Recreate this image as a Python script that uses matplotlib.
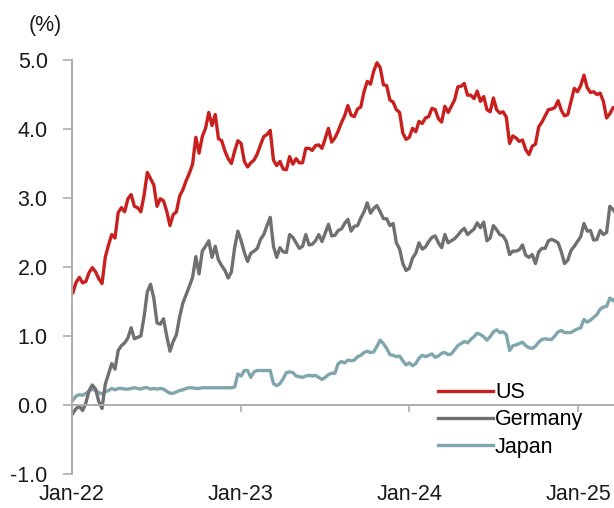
import matplotlib
matplotlib.use("Agg")
import matplotlib.pyplot as plt
import pandas as pd

plt.rcParams["font.family"] = ["Liberation Sans", "DejaVu Sans"]
plt.rcParams["axes.unicode_minus"] = False

# 10-year government bond yields (%), weekly (Mondays from 3 Jan 2022)
US_YIELD = [
    # 2022
    1.63, 1.78, 1.85, 1.77, 1.79, 1.92, 1.99, 1.93, 1.83, 1.76, 2.14, 2.32, 2.47,
    2.42, 2.79, 2.86, 2.80, 2.99, 3.05, 2.88, 2.86, 2.80, 3.04, 3.37, 3.28, 3.19,
    2.88, 2.99, 2.96, 2.81, 2.60, 2.76, 2.80, 3.03, 3.12, 3.25, 3.36, 3.49, 3.88,
    3.65, 3.89, 4.01, 4.24, 4.05, 4.21, 3.86, 3.83, 3.68, 3.57, 3.50, 3.68, 3.83,
    # 2023
    3.79, 3.53, 3.45, 3.51, 3.55, 3.64, 3.77, 3.89, 3.92, 3.98, 3.55, 3.47, 3.53,
    3.42, 3.41, 3.60, 3.49, 3.57, 3.51, 3.51, 3.72, 3.72, 3.69, 3.76, 3.77, 3.72,
    3.86, 4.01, 3.81, 3.87, 3.97, 4.09, 4.19, 4.34, 4.20, 4.18, 4.29, 4.32, 4.54,
    4.69, 4.65, 4.84, 4.96, 4.89, 4.64, 4.63, 4.42, 4.39, 4.28, 4.24, 3.94, 3.85,
    # 2024
    3.88, 4.01, 3.96, 4.11, 4.08, 4.16, 4.18, 4.30, 4.28, 4.15, 4.10, 4.33, 4.24,
    4.33, 4.42, 4.61, 4.62, 4.66, 4.49, 4.49, 4.44, 4.55, 4.40, 4.47, 4.28, 4.25,
    4.45, 4.28, 4.23, 4.25, 4.17, 3.79, 3.90, 3.87, 3.82, 3.84, 3.70, 3.63, 3.75,
    3.78, 4.03, 4.10, 4.19, 4.28, 4.29, 4.31, 4.41, 4.27, 4.19, 4.21, 4.40, 4.59,
    4.54,
    # 2025
    4.63, 4.78, 4.60, 4.53, 4.54, 4.50, 4.52, 4.40, 4.16, 4.22, 4.31, 4.29,
]

GERMANY_YIELD = [
    # 2022
    -0.12, -0.05, -0.02, -0.08, 0.03, 0.21, 0.29, 0.23, 0.05, -0.05, 0.30, 0.45, 0.60,
    0.52, 0.79, 0.86, 0.90, 0.97, 1.12, 0.96, 0.98, 1.00, 1.28, 1.64, 1.75, 1.55,
    1.19, 1.17, 1.25, 1.00, 0.78, 0.92, 1.02, 1.28, 1.48, 1.60, 1.72, 1.85, 2.15,
    1.90, 2.23, 2.30, 2.38, 2.14, 2.30, 2.10, 2.02, 1.95, 1.84, 1.93, 2.28, 2.52,
    # 2023
    2.38, 2.21, 2.08, 2.20, 2.23, 2.27, 2.40, 2.47, 2.60, 2.72, 2.30, 2.14, 2.28,
    2.22, 2.21, 2.47, 2.43, 2.35, 2.27, 2.30, 2.47, 2.32, 2.33, 2.38, 2.47, 2.37,
    2.49, 2.62, 2.45, 2.46, 2.53, 2.55, 2.63, 2.69, 2.52, 2.59, 2.60, 2.71, 2.80,
    2.93, 2.78, 2.85, 2.89, 2.80, 2.70, 2.70, 2.60, 2.63, 2.35, 2.26, 2.05, 1.95,
    # 2024
    1.98, 2.13, 2.20, 2.35, 2.26, 2.29, 2.37, 2.43, 2.45, 2.35, 2.28, 2.47, 2.35,
    2.38, 2.41, 2.46, 2.52, 2.56, 2.47, 2.51, 2.55, 2.64, 2.57, 2.65, 2.38, 2.42,
    2.60, 2.54, 2.47, 2.45, 2.37, 2.18, 2.23, 2.23, 2.25, 2.32, 2.17, 2.14, 2.18,
    2.05, 2.22, 2.27, 2.27, 2.38, 2.40, 2.38, 2.35, 2.22, 2.05, 2.10, 2.24, 2.30,
    2.37,
    # 2025
    2.44, 2.63, 2.52, 2.53, 2.39, 2.40, 2.53, 2.47, 2.50, 2.88, 2.83, 2.77,
]

JAPAN_YIELD = [
    # 2022
    0.07, 0.13, 0.15, 0.14, 0.17, 0.20, 0.23, 0.21, 0.18, 0.16, 0.19, 0.21, 0.24,
    0.22, 0.24, 0.24, 0.23, 0.23, 0.24, 0.25, 0.24, 0.23, 0.25, 0.25, 0.23, 0.24,
    0.23, 0.24, 0.23, 0.20, 0.17, 0.17, 0.19, 0.21, 0.22, 0.24, 0.25, 0.25, 0.24,
    0.24, 0.25, 0.25, 0.25, 0.25, 0.25, 0.25, 0.25, 0.25, 0.25, 0.25, 0.26, 0.45,
    # 2023
    0.42, 0.50, 0.50, 0.40, 0.48, 0.50, 0.50, 0.50, 0.50, 0.50, 0.31, 0.28, 0.31,
    0.38, 0.47, 0.48, 0.47, 0.42, 0.41, 0.40, 0.42, 0.43, 0.42, 0.43, 0.40, 0.37,
    0.40, 0.44, 0.46, 0.46, 0.60, 0.63, 0.61, 0.65, 0.64, 0.65, 0.70, 0.72, 0.76,
    0.78, 0.76, 0.77, 0.85, 0.94, 0.89, 0.82, 0.73, 0.72, 0.70, 0.71, 0.64, 0.58,
    # 2024
    0.61, 0.57, 0.60, 0.68, 0.72, 0.70, 0.72, 0.74, 0.69, 0.71, 0.75, 0.76, 0.73,
    0.74, 0.80, 0.86, 0.89, 0.92, 0.90, 0.95, 0.99, 1.04, 1.02, 0.99, 0.94, 0.99,
    1.06, 1.09, 1.05, 1.06, 1.02, 0.79, 0.86, 0.87, 0.89, 0.91, 0.86, 0.83, 0.82,
    0.85, 0.91, 0.95, 0.96, 0.95, 0.95, 1.00, 1.06, 1.08, 1.05, 1.05, 1.05, 1.08,
    1.10,
    # 2025
    1.12, 1.24, 1.20, 1.23, 1.27, 1.31, 1.39, 1.42, 1.43, 1.55, 1.51, 1.57,
]

SERIES_NAMES = ["US", "Germany", "Japan"]
SERIES_COLORS = ["#C8201E", "#707070", "#7FA6AC"]
YEAR_TICKS = ["2022-01-01", "2023-01-01", "2024-01-01", "2025-01-01"]
YEAR_LABELS = ["Jan-22", "Jan-23", "Jan-24", "Jan-25"]

AXIS_GREY = "#ADADAD"
FONT_SIZE = 15.5

dates = pd.date_range("2022-01-03", periods=len(US_YIELD), freq="W-MON")

fig = plt.figure(figsize=(6.14, 5.08), dpi=100)
ax = fig.add_axes([72 / 614, 1 - 474 / 508, 1 - 72 / 614, 414 / 508])

series = [US_YIELD, GERMANY_YIELD, JAPAN_YIELD]
handles = {}
# Japan drawn first so the US line sits on top
for name, values, color in reversed(list(zip(SERIES_NAMES, series, SERIES_COLORS))):
    (line,) = ax.plot(dates, values, color=color, lw=2.4, solid_joinstyle="round")
    handles[name] = line

ax.set_xlim(pd.Timestamp("2022-01-01"), pd.Timestamp("2025-03-19"))
ax.set_ylim(-1, 5)
ax.set_yticks([-1, 0, 1, 2, 3, 4, 5])
ax.set_yticklabels([f"{v:.1f}" for v in [-1, 0, 1, 2, 3, 4, 5]])

for side in ["top", "right"]:
    ax.spines[side].set_visible(False)
ax.spines["left"].set_color(AXIS_GREY)
ax.spines["left"].set_linewidth(1.4)
ax.spines["bottom"].set_color(AXIS_GREY)
ax.spines["bottom"].set_linewidth(1.4)
ax.spines["bottom"].set_position(("data", 0))

ax.tick_params(axis="y", length=6.5, width=1.2, color=AXIS_GREY, pad=11,
               labelsize=FONT_SIZE, labelcolor="#1a1a1a")
tick_dates = [pd.Timestamp(d) for d in YEAR_TICKS]
ax.set_xticks(tick_dates)
ax.tick_params(axis="x", length=5, width=1.2, color=AXIS_GREY, labelbottom=False)

# year labels sit under the plot area, not under the zero line
for d, label in zip(tick_dates, YEAR_LABELS):
    ax.text(d, -0.05, label, transform=ax.get_xaxis_transform(), ha="center",
            va="center", fontsize=FONT_SIZE, color="#1a1a1a", clip_on=False)

fig.text(45 / 614, 1 - 25 / 508, "(%)", ha="center", va="center",
         fontsize=FONT_SIZE, color="#1a1a1a")

ax.legend([handles[n] for n in SERIES_NAMES], SERIES_NAMES, loc="center left",
          bbox_to_anchor=(438 / 614, 1 - 420 / 508), bbox_transform=fig.transFigure,
          frameon=False, fontsize=FONT_SIZE, handlelength=2.55, handletextpad=0.1,
          labelspacing=0.3, borderpad=0, borderaxespad=0)

fig.savefig("out.png", dpi=100)
